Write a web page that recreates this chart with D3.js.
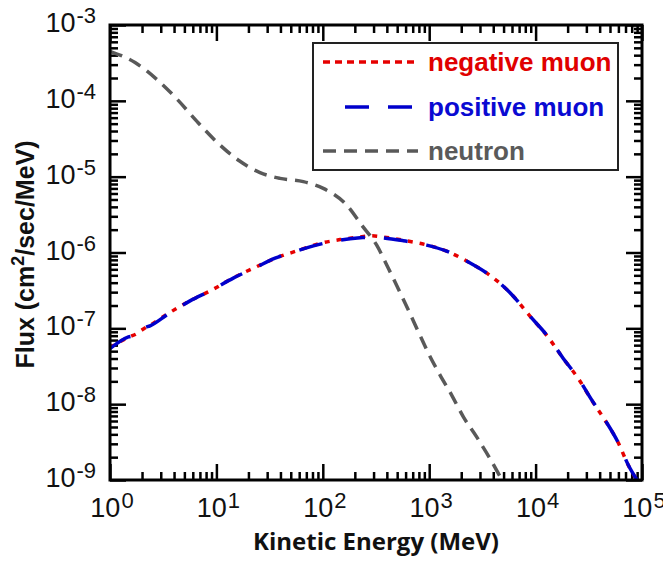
<!DOCTYPE html>
<meta charset="utf-8" />
<style>
  body {
    margin: 0;
    background: #fff;
  }
  .tick-label {
    font-family: "Liberation Sans", Arial, sans-serif;
    font-size: 27px;
    fill: #111;
  }
</style>
<body>
  <div id="chart"></div>
  <script src="https://d3js.org/d3.v7.min.js"></script>
  <script>
    // data (energy in MeV, flux in cm^-2 s^-1 MeV^-1)
    var negMuonE = [1, 1.49, 1.78, 2.06, 2.38, 3.53, 5.65, 9.03, 14.4, 23.1, 35.6, 56.9, 90.7, 145, 224, 288, 371, 571, 946, 1459, 2333, 3724, 5960, 8851, 13150, 18200, 25180, 33650, 44870, 59840, 74300, 89700];
    var negMuonF = [5.6e-8, 7.6e-8, 8.5e-8, 9.8e-8, 1.1e-7, 1.57e-7, 2.31e-7, 3.19e-7, 4.64e-7, 6.36e-7, 8.37e-7, 1.05e-6, 1.3e-6, 1.48e-6, 1.6e-6, 1.66e-6, 1.6e-6, 1.45e-6, 1.26e-6, 1.04e-6, 7.5e-7, 5.0e-7, 2.8e-7, 1.45e-7, 7.6e-8, 4.0e-8, 2.18e-8, 1.13e-8, 6.15e-9, 3.1e-9, 1.57e-9, 1.0e-9];

    var posMuonE = negMuonE;
    var posMuonF = [5.4e-8, 7.7e-8, 8.1e-8, 1.0e-7, 1.08e-7, 1.55e-7, 2.3e-7, 3.2e-7, 4.6e-7, 6.3e-7, 8.4e-7, 1.05e-6, 1.27e-6, 1.45e-6, 1.56e-6, 1.6e-6, 1.56e-6, 1.43e-6, 1.25e-6, 1.04e-6, 7.5e-7, 5.0e-7, 2.8e-7, 1.45e-7, 7.7e-8, 4.0e-8, 2.2e-8, 1.14e-8, 6.2e-9, 3.1e-9, 1.58e-9, 1.0e-9];

    var neutronE = [1, 1.72, 2.75, 4.33, 6.53, 10.4, 16.4, 25.7, 39.6, 65.6, 101, 168, 232, 321, 413, 513, 637, 791, 982, 1265, 1626, 2094, 2793, 3724, 4830];
    var neutronF = [4.5e-4, 3.2e-4, 1.92e-4, 1.03e-4, 5.4e-5, 2.75e-5, 1.62e-5, 1.13e-5, 9.5e-6, 8.6e-6, 7.0e-6, 4.2e-6, 2.3e-6, 1.25e-6, 6.2e-7, 3.3e-7, 1.74e-7, 9.0e-8, 4.7e-8, 2.42e-8, 1.32e-8, 6.8e-9, 3.7e-9, 1.92e-9, 1.0e-9];

    var xTickExps = [0, 1, 2, 3, 4, 5];
    var yTickExps = [-9, -8, -7, -6, -5, -4, -3];

    var legendNames = ["negative muon", "positive muon", "neutron"];

    // dimensions
    var W = 663,
      H = 562;
    var margin = { top: 25, right: 21, bottom: 82, left: 110 };
    var pLeft = margin.left,
      pRight = W - margin.right,
      pTop = margin.top,
      pBottom = H - margin.bottom;

    var x = d3.scaleLog().domain([1, 1e5]).range([pLeft, pRight]);
    var y = d3.scaleLog().domain([1e-9, 1e-3]).range([pBottom, pTop]);

    var svg = d3
      .select("#chart")
      .append("svg")
      .attr("width", W)
      .attr("height", H);

    svg
      .append("defs")
      .append("clipPath")
      .attr("id", "plotclip")
      .append("rect")
      .attr("x", pLeft)
      .attr("y", pTop)
      .attr("width", pRight - pLeft)
      .attr("height", pBottom - pTop);

    // major / minor tick values
    function isMajor(v) {
      return Math.abs(Math.log10(v) - Math.round(Math.log10(v))) < 1e-6;
    }
    var xMajor = xTickExps.map(function (e) {
      return Math.pow(10, e);
    });
    var xMinor = x.ticks().filter(function (v) {
      return !isMajor(v);
    });
    var yMajor = yTickExps.map(function (e) {
      return Math.pow(10, e);
    });
    var yMinor = y.ticks().filter(function (v) {
      return !isMajor(v);
    });

    // inward ticks on all four sides
    function addAxis(axis, tx, ty) {
      var g = svg
        .append("g")
        .attr("transform", "translate(" + tx + "," + ty + ")")
        .call(axis);
      g.select(".domain").remove();
      g.selectAll("line").attr("stroke", "#000").attr("stroke-width", 2.5);
      g.selectAll("text").remove();
    }
    [
      [xMajor, 16],
      [xMinor, 8],
    ].forEach(function (p) {
      addAxis(d3.axisBottom(x).tickValues(p[0]).tickSize(-p[1]), 0, pBottom);
      addAxis(d3.axisTop(x).tickValues(p[0]).tickSize(-p[1]), 0, pTop);
    });
    [
      [yMajor, 16],
      [yMinor, 8],
    ].forEach(function (p) {
      addAxis(d3.axisLeft(y).tickValues(p[0]).tickSize(-p[1]), pLeft, 0);
      addAxis(d3.axisRight(y).tickValues(p[0]).tickSize(-p[1]), pRight, 0);
    });

    // tick labels as 10^n
    xTickExps.forEach(function (e) {
      var t = svg
        .append("text")
        .attr("class", "tick-label")
        .attr("x", x(Math.pow(10, e)) + 2)
        .attr("y", pBottom + 37)
        .attr("text-anchor", "middle");
      t.append("tspan").text("10");
      t.append("tspan")
        .attr("dy", -9)
        .attr("dx", 1)
        .style("font-size", "22px")
        .text(e);
    });
    yTickExps.forEach(function (e) {
      var t = svg
        .append("text")
        .attr("class", "tick-label")
        .attr("x", pLeft - 14)
        .attr("y", y(Math.pow(10, e)) + 7)
        .attr("text-anchor", "end");
      t.append("tspan").text("10");
      t.append("tspan")
        .attr("dy", -9)
        .attr("dx", 1)
        .style("font-size", "22px")
        .text("-" + -e);
    });

    // curves
    var line = d3
      .line()
      .x(function (d) {
        return x(d[0]);
      })
      .y(function (d) {
        return y(d[1]);
      })
      .curve(d3.curveMonotoneX);

    var plot = svg.append("g").attr("clip-path", "url(#plotclip)");

    plot
      .append("path")
      .datum(d3.zip(neutronE, neutronF))
      .attr("fill", "none")
      .attr("stroke", "#595959")
      .attr("stroke-width", 3.5)
      .attr("stroke-dasharray", "13,8")
      .attr("d", line);

    plot
      .append("path")
      .datum(d3.zip(negMuonE, negMuonF))
      .attr("fill", "none")
      .attr("stroke", "#e60000")
      .attr("stroke-width", 3.5)
      .attr("stroke-dasharray", "5,7")
      .attr("d", line);

    plot
      .append("path")
      .datum(d3.zip(posMuonE, posMuonF))
      .attr("fill", "none")
      .attr("stroke", "#0000cc")
      .attr("stroke-width", 3.5)
      .attr("stroke-dasharray", "24,19")
      .attr("d", line);

    // frame
    svg
      .append("rect")
      .attr("x", pLeft)
      .attr("y", pTop)
      .attr("width", pRight - pLeft)
      .attr("height", pBottom - pTop)
      .attr("fill", "none")
      .attr("stroke", "#000")
      .attr("stroke-width", 3);

    // legend
    var legend = svg.append("g");
    legend
      .append("rect")
      .attr("x", 313)
      .attr("y", 43)
      .attr("width", 305)
      .attr("height", 127)
      .attr("fill", "#fff")
      .attr("stroke", "#222")
      .attr("stroke-width", 2);

    var legendStyle = [
      { color: "#e60000", dash: "7,5", x1: 323, x2: 418, ly: 62, ty: 71, text: "#e00000" },
      { color: "#0000cc", dash: "24,19", x1: 345, x2: 412, ly: 107, ty: 116, text: "#0a0ad2" },
      { color: "#595959", dash: "13,8", x1: 323, x2: 418, ly: 151, ty: 160, text: "#5a5a5a" },
    ];
    legendNames.forEach(function (name, i) {
      var s = legendStyle[i];
      legend
        .append("line")
        .attr("x1", s.x1)
        .attr("x2", s.x2)
        .attr("y1", s.ly)
        .attr("y2", s.ly)
        .attr("stroke", s.color)
        .attr("stroke-width", 3.5)
        .attr("stroke-dasharray", s.dash);
      legend
        .append("text")
        .attr("x", 428)
        .attr("y", s.ty)
        .style("font-family", "'Liberation Sans', Arial, sans-serif")
        .style("font-weight", "bold")
        .style("font-size", "26px")
        .style("fill", s.text)
        .text(name);
    });

    // axis titles
    svg
      .append("text")
      .attr("x", (pLeft + pRight) / 2)
      .attr("y", 550)
      .attr("text-anchor", "middle")
      .style("font-family", "'Open Sans', sans-serif")
      .style("font-weight", "bold")
      .style("font-size", "24px")
      .style("fill", "#111")
      .text("Kinetic Energy (MeV)");

    var yt = svg
      .append("text")
      .attr("transform", "translate(34," + ((pTop + pBottom) / 2 + 2) + ") rotate(-90)")
      .attr("text-anchor", "middle")
      .style("font-family", "'Liberation Sans', Arial, sans-serif")
      .style("font-weight", "bold")
      .style("font-size", "25px")
      .style("fill", "#111");
    yt.append("tspan").text("Flux (cm");
    yt.append("tspan").attr("dy", -10).style("font-size", "18px").text("2");
    yt.append("tspan").attr("dy", 10).text("/sec/MeV)");
  </script>
</body>
